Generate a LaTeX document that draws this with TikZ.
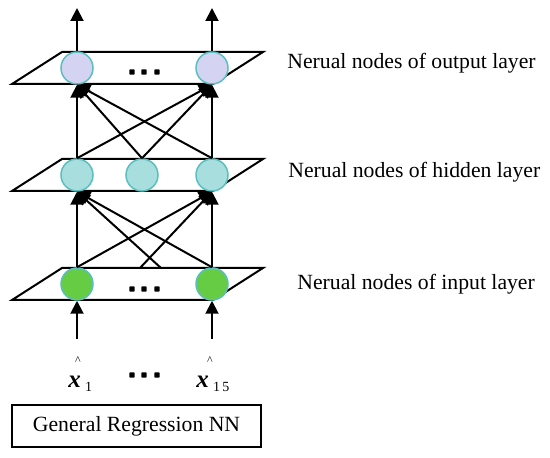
\documentclass[tikz,border=0pt]{standalone}
\usepackage{fontspec}
\setmainfont{Liberation Serif}
\usetikzlibrary{arrows.meta}
\definecolor{outfill}{HTML}{D4D4F2}
\definecolor{hidfill}{HTML}{A8DEDE}
\definecolor{infill}{HTML}{66CC44}
\definecolor{ringcol}{HTML}{5BBFBF}
\tikzset{
  neuron/.style={circle, minimum size=16pt, inner sep=0pt, draw=ringcol, line width=0.75pt},
  outn/.style={neuron, fill=outfill},
  hidn/.style={neuron, fill=hidfill},
  inn/.style={neuron, fill=infill},
  layerplane/.style={draw=black, line width=1pt, fill=white},
  conn/.style={draw=black, line width=1pt, -{Triangle[width=6.5pt,length=6.5pt]}},
  lbl/.style={font=\fontsize{10.85}{13}\selectfont, anchor=base west, inner sep=0pt},
  dotmark/.style={fill=black, rounded corners=0.4pt},
}
\begin{document}
\begin{tikzpicture}[x=0.5pt, y=-0.5pt]
\useasboundingbox[fill=white] (0,0) rectangle (550,458);
% layer planes
\path[layerplane] (12,84) -- (62,52) -- (263,52) -- (213,84) -- cycle;
\path[layerplane] (12,191) -- (62,159) -- (263,159) -- (213,191) -- cycle;
\path[layerplane] (12,300) -- (62,268) -- (263,268) -- (213,300) -- cycle;
% neurons
\node[outn] (o1) at (77,68) {};
\node[outn] (o2) at (212,68) {};
\node[hidn] (h1) at (77,175) {};
\node[hidn] (h2) at (142,175) {};
\node[hidn] (h3) at (212,175) {};
\node[inn] (i1) at (77,284) {};
\node[inn] (i2) at (212,284) {};
% ellipsis dots
\foreach \x in {132,144,157} {
  \fill[dotmark] (\x-2.7,69.3) rectangle (\x+2.7,74.7);
  \fill[dotmark] (\x-2.7,286.3) rectangle (\x+2.7,291.7);
  \fill[dotmark] (\x-2.7,372.3) rectangle (\x+2.7,377.7);
}
% free ends
\coordinate (t1) at (77,8);
\coordinate (t2) at (212,8);
\coordinate (b1) at (77,339);
\coordinate (b2) at (212,339);
\coordinate (d1) at (140,268);
\coordinate (d2) at (161,268);
% output arrows
\draw[conn] (o1.north) -- (t1);
\draw[conn] (o2.north) -- (t2);
% hidden to output
\foreach \h in {h1,h2,h3} {
  \draw[conn] (\h.north) -- (o1.south);
  \draw[conn] (\h.north) -- (o2.south);
}
% input to hidden
\draw[conn] (i1.north) -- (h1.south);
\draw[conn] (i1.north) -- (h3.south);
\draw[conn] (i2.north) -- (h3.south);
\draw[conn] (i2.north) -- (h1.south);
\draw[conn] (d1) -- (h3.south);
\draw[conn] (d2) -- (h1.south);
% inputs
\draw[conn] (b1) -- (i1.south);
\draw[conn] (b2) -- (i2.south);
% input symbols
\node[inner sep=0pt, font=\fontsize{6}{7}\selectfont] (hat1) at (78,361) {\^{}};
\node[inner sep=0pt, font=\fontsize{6}{7}\selectfont] (hat2) at (210,361) {\^{}};
\node[inner sep=0pt, anchor=base west, font=\fontsize{12.5}{14}\selectfont] (x1) at (68,387) {\textbf{\textit{x}}\,\raisebox{-2pt}{\fontsize{7}{8}\selectfont 1}};
\node[inner sep=0pt, anchor=base west, font=\fontsize{12.5}{14}\selectfont] (x15) at (196,387) {\textbf{\textit{x}}\,\raisebox{-2pt}{\fontsize{7}{8}\selectfont 1\hspace{1.2pt}5}};
% labels
\node[lbl] (lo) at (287,69) {Nerual nodes of output layer};
\node[lbl] (lh) at (288,178) {Nerual nodes of hidden layer};
\node[lbl] (li) at (297,290) {Nerual nodes of input layer};
% title box
\node[draw=black, line width=1pt, minimum width=124.5pt, minimum height=21pt, inner sep=0pt, font=\fontsize{10.85}{13}\selectfont] (box) at (136.5,426) {General Regression NN};
\end{tikzpicture}
\end{document}
